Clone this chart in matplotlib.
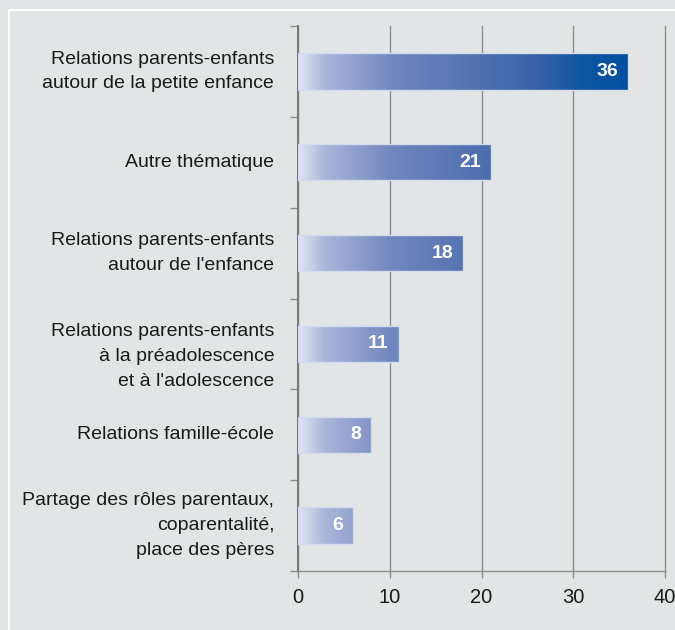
import numpy as np
import matplotlib.pyplot as plt
from matplotlib.colors import LinearSegmentedColormap
from matplotlib.lines import Line2D

plt.rcParams['font.family'] = ['Liberation Sans', 'DejaVu Sans']

categories = [
    "Relations parents-enfants\nautour de la petite enfance",
    "Autre thématique",
    "Relations parents-enfants\nautour de l'enfance",
    "Relations parents-enfants\nà la préadolescence\net à l'adolescence",
    "Relations famille-école",
    "Partage des rôles parentaux,\ncoparentalité,\nplace des pères",
]
values = [36, 21, 18, 11, 8, 6]
xticks = [0, 10, 20, 30, 40]

bg = '#e2e5e6'
grid_c = '#8c8c8c'

# gradient shared along the x axis, light on the left, dark blue on the right
cmap = LinearSegmentedColormap.from_list('bar', [
    (0.0, '#e0e4f3'),
    (0.08, '#aab5d9'),
    (0.28, '#7187c0'),
    (0.55, '#5070b0'),
    (0.72, '#3a62a8'),
    (0.86, '#0f55a0'),
    (1.0, '#0050a0'),
])

fig = plt.figure(figsize=(6.75, 6.3), dpi=100, facecolor=bg)
ax = fig.add_axes([298 / 675, 1 - 571 / 630, 367 / 675, 545 / 630])
ax.set_facecolor(bg)

n = len(categories)
ax.set_xlim(0, 40)
ax.set_ylim(n - 0.5, -0.5)

h = 0.4
bars = ax.barh(range(n), values, height=h, color='none',
               edgecolor='#d3dbef', lw=1.0, zorder=3)
for i, (v, b) in enumerate(zip(values, bars)):
    xs = np.linspace(0, v, 200)[None, :] / 36.0
    im = ax.imshow(xs, cmap=cmap, vmin=0, vmax=1, aspect='auto',
                   extent=(0, v, i + h / 2, i - h / 2), zorder=2,
                   interpolation='bilinear')
    im.set_clip_path(b)
    ax.text(v - 1.1, i, str(v), color='white', fontsize=14,
            fontweight='bold', ha='right', va='center', zorder=4)

ax.set_xticks(xticks)
ax.set_xticklabels([str(t) for t in xticks], fontsize=14.5, color='#1a1a1a')
ax.xaxis.grid(True, color=grid_c, lw=1, zorder=1)
ax.set_axisbelow(True)
for gl in ax.get_xgridlines():
    gl.set_clip_on(False)

ax.set_yticks(np.arange(n + 1) - 0.5)
ax.set_yticklabels([])
ax.tick_params(axis='y', length=6, color=grid_c, width=1)
ax.tick_params(axis='x', length=5, color=grid_c, width=1, pad=7)

for i, c in enumerate(categories):
    # the three-line label of the 4th bar sits a little lower in the original
    dy = 0.14 if i == 3 else 0.0
    ax.text(-2.6, i + dy, c, ha='right', va='center', fontsize=14,
            color='#1a1a1a', linespacing=1.6)

for s in ['top', 'right']:
    ax.spines[s].set_visible(False)
ax.spines['left'].set_color('#7a7a7a')
ax.spines['left'].set_linewidth(1.5)
ax.spines['bottom'].set_color(grid_c)
ax.spines['bottom'].set_linewidth(1)

# white frame lines at left and top
fig.add_artist(Line2D([8.5 / 675, 8.5 / 675], [0, 1 - 9.5 / 630],
                      color='white', lw=1.5, transform=fig.transFigure))
fig.add_artist(Line2D([8.5 / 675, 1], [1 - 9.5 / 630, 1 - 9.5 / 630],
                      color='white', lw=1.5, transform=fig.transFigure))

fig.savefig('out.png', dpi=100, facecolor=bg)
